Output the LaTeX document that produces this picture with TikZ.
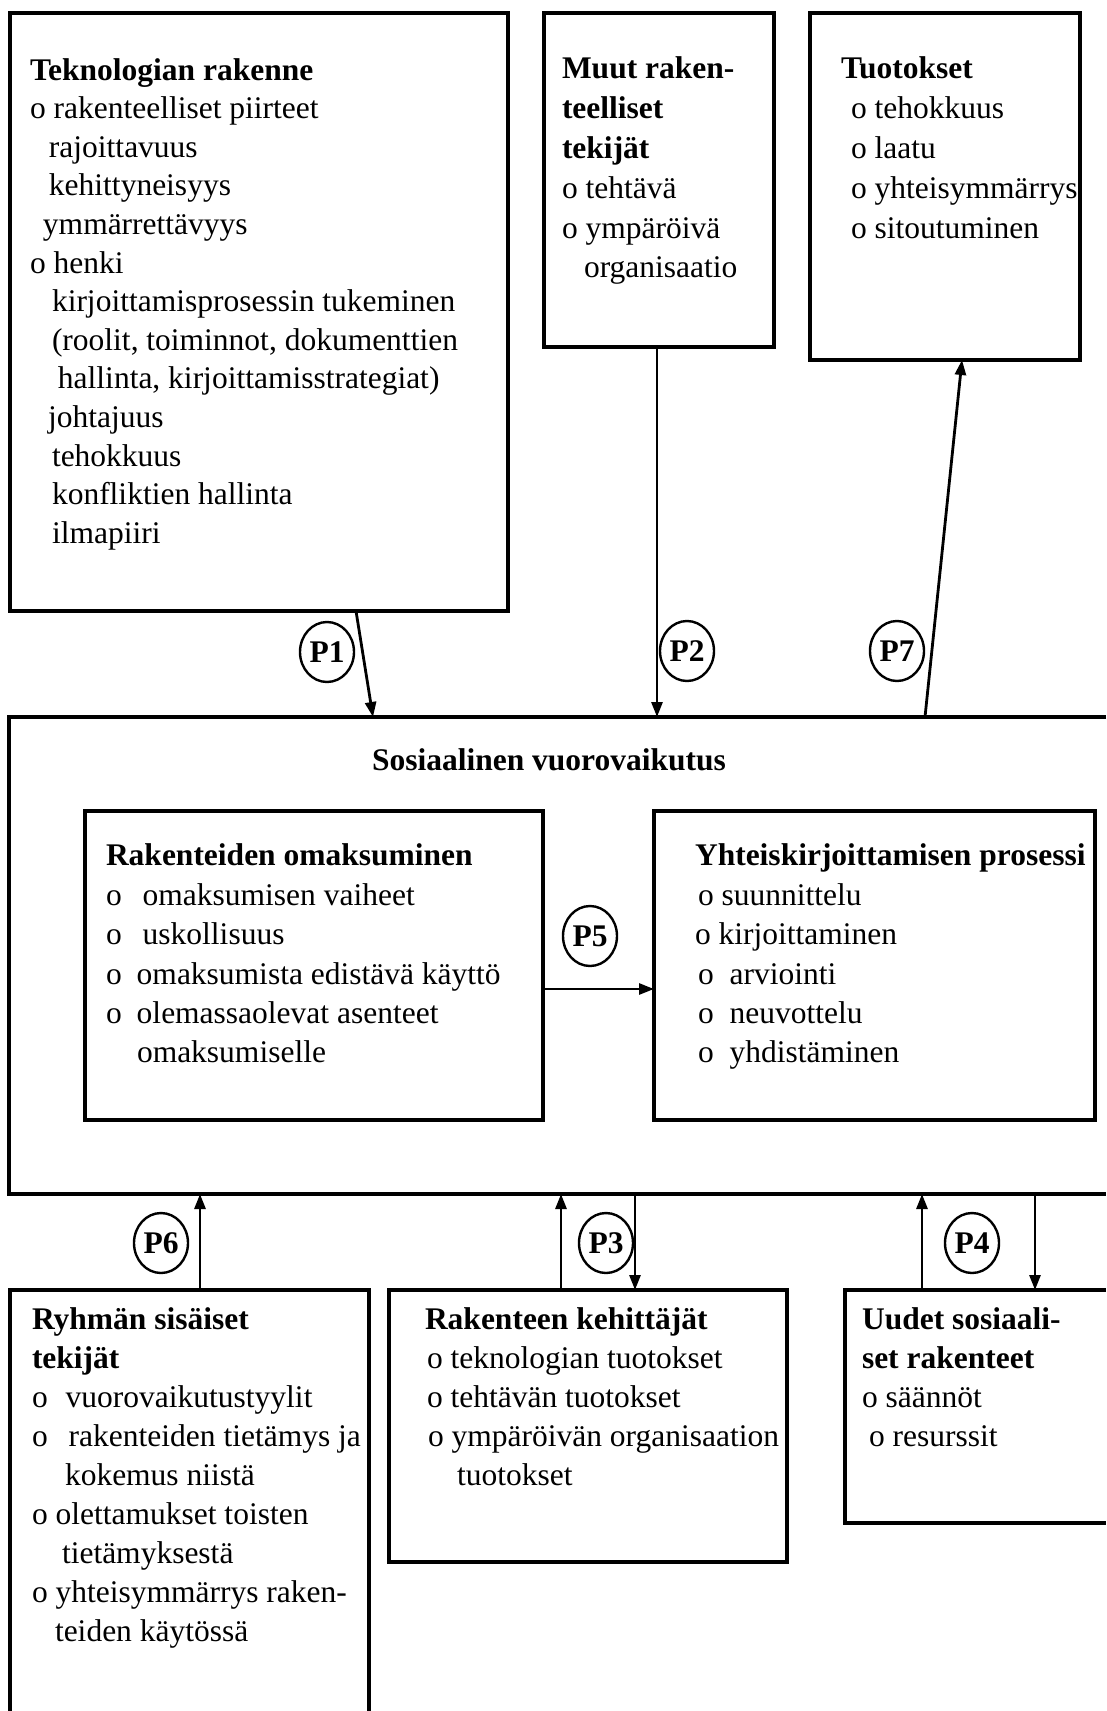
\documentclass[tikz,border=0pt]{standalone}
\usepackage{fontspec}
\setmainfont{Liberation Serif}
\usetikzlibrary{arrows.meta,shapes.geometric}
\tikzset{
  boxline/.style={line width=3.4pt, line join=miter},
  bx/.style={draw, boxline, rectangle, inner sep=0pt, outer sep=0pt, anchor=north west},
  frame/.style={rectangle, inner sep=0pt, outer sep=0pt, anchor=north west},
  arr/.style={line width=2.8pt, -{Triangle[length=15pt,width=11pt]}},
  pc/.style={draw, ellipse, line width=2.4pt, minimum width=54pt, minimum height=60pt, inner sep=0pt, font=\fontsize{31.5}{38}\selectfont\bfseries},
  txt/.style={anchor=north west, inner sep=0pt, outer sep=0pt, align=left},
}
\begin{document}
\begin{tikzpicture}[x=1pt,y=-1pt]
\useasboundingbox (0,0) rectangle (1106,1711);
\fill[white] (0,0) rectangle (1106,1711);
% top boxes
\node[bx, minimum width=498pt, minimum height=598pt] (b1) at (10,13) {};
\node[bx, minimum width=230pt, minimum height=334pt] (b2) at (544,13) {};
\node[bx, minimum width=270pt, minimum height=347pt] (b3) at (810,13) {};
% big box
\node[frame, minimum width=1097pt, minimum height=477pt] (big) at (9,717) {};
\draw[boxline] (big.north east) -- (big.north west) -- (big.south west) -- (big.south east);
% inner boxes
\node[bx, minimum width=458pt, minimum height=309pt] (in1) at (85,811) {};
\node[bx, minimum width=441pt, minimum height=309pt] (in2) at (654,811) {};
% bottom boxes
\node[frame, minimum width=359pt, minimum height=421pt] (c1) at (10,1290) {};
\draw[boxline] (c1.south west) -- (c1.north west) -- (c1.north east) -- (c1.south east);
\node[bx, minimum width=398pt, minimum height=272pt] (c2) at (389,1290) {};
\node[frame, minimum width=261pt, minimum height=233pt] (c3) at (845,1290) {};
\draw[boxline] (c3.north east) -- (c3.north west) -- (c3.south west) -- (c3.south east);

% texts
\node[txt, font=\fontsize{31.5}{38.6}\selectfont] (t1) at (30,53) {\strut\textbf{Teknologian rakenne}\\
o rakenteelliset piirteet\\
\hspace*{19pt}rajoittavuus\\
\hspace*{19pt}kehittyneisyys\\
\hspace*{13pt}ymmärrettävyys\\
o henki\\
\hspace*{22pt}kirjoittamisprosessin tukeminen\\
\hspace*{22pt}(roolit, toiminnot, dokumenttien\\
\hspace*{28pt}hallinta, kirjoittamisstrategiat)\\
\hspace*{18pt}johtajuus\\
\hspace*{22pt}tehokkuus\\
\hspace*{22pt}konfliktien hallinta\\
\hspace*{22pt}ilmapiiri};

\node[txt, font=\fontsize{31.5}{39.8}\selectfont] (t2) at (562,51.1) {\strut\textbf{Muut raken-}\\
\textbf{teelliset}\\
\textbf{tekijät}\\
o tehtävä\\
o ympäröivä\\
\hspace*{22pt}organisaatio};

\node[txt, font=\fontsize{31.5}{39.8}\selectfont] (t3) at (841,51.1) {\strut\textbf{Tuotokset}\\
\hspace*{10pt}o tehokkuus\\
\hspace*{10pt}o laatu\\
\hspace*{10pt}o yhteisymmärrys\\
\hspace*{10pt}o sitoutuminen};

\node[anchor=base, inner sep=0pt, font=\fontsize{31.5}{38}\selectfont\bfseries] (st) at (549,770) {Sosiaalinen vuorovaikutus};

\node[txt, font=\fontsize{31.5}{39.4}\selectfont] (t4) at (106,838.4) {\strut\textbf{Rakenteiden omaksuminen}\\
o\hspace{21pt}omaksumisen vaiheet\\
o\hspace{21pt}uskollisuus\\
o\hspace{15pt}omaksumista edistävä käyttö\\
o\hspace{15pt}olemassaolevat asenteet\\
\hspace*{31pt}omaksumiselle};

\node[txt, font=\fontsize{31.5}{39.4}\selectfont] (t5) at (695,838.4) {\strut\textbf{Yhteiskirjoittamisen prosessi}\\
\hspace*{3pt}o suunnittelu\\
o kirjoittaminen\\
\hspace*{3pt}o\hspace{16pt}arviointi\\
\hspace*{3pt}o\hspace{16pt}neuvottelu\\
\hspace*{3pt}o\hspace{16pt}yhdistäminen};

\node[txt, font=\fontsize{31.5}{39}\selectfont] (t6) at (32,1301.7) {\strut\textbf{Ryhmän sisäiset}\\
\textbf{tekijät}\\
o\hspace{18pt}vuorovaikutustyylit\\
o\hspace{21pt}rakenteiden tietämys ja\\
\hspace*{33pt}kokemus niistä\\
o olettamukset toisten\\
\hspace*{30pt}tietämyksestä\\
o yhteisymmärrys raken-\\
\hspace*{23pt}teiden käytössä};

\node[txt, font=\fontsize{31.5}{39}\selectfont] (t7) at (425,1301.7) {\strut\textbf{Rakenteen kehittäjät}\\
\hspace*{2pt}o teknologian tuotokset\\
\hspace*{2pt}o tehtävän tuotokset\\
\hspace*{3pt}o ympäröivän organisaation\\
\hspace*{32pt}tuotokset};

\node[txt, font=\fontsize{31.5}{39}\selectfont] (t8) at (862,1301.7) {\strut\textbf{Uudet sosiaali-}\\
\textbf{set rakenteet}\\
o säännöt\\
\hspace*{7pt}o resurssit};

% P labels
\node[pc] (p1) at (327,652) {P1};
\node[pc] (p2) at (687,651) {P2};
\node[pc] (p7) at (897,651) {P7};
\node[pc] (p5) at (590,936) {P5};
\node[pc] (p6) at (161,1243) {P6};
\node[pc] (p3) at (606,1243) {P3};
\node[pc] (p4) at (972,1243) {P4};

% connectors
\draw[arr] ([xshift=346pt]b1.south west) -- ([xshift=364pt]big.north west);
\draw[arr] ([xshift=113pt]b2.south west) -- ([xshift=648pt]big.north west);
\draw[arr] ([xshift=916pt]big.north west) -- ([xshift=152pt]b3.south west);
\draw[arr] ([yshift=-23.5pt]in1.east) -- ([yshift=-23.5pt]in2.west);
\draw[arr] ([xshift=190pt]c1.north west) -- ([xshift=191pt]big.south west);
\draw[arr] ([xshift=172pt]c2.north west) -- ([xshift=552pt]big.south west);
\draw[arr] ([xshift=626pt]big.south west) -- ([xshift=246pt]c2.north west);
\draw[arr] ([xshift=77pt]c3.north west) -- ([xshift=913pt]big.south west);
\draw[arr] ([xshift=1026pt]big.south west) -- ([xshift=190pt]c3.north west);
\end{tikzpicture}
\end{document}
